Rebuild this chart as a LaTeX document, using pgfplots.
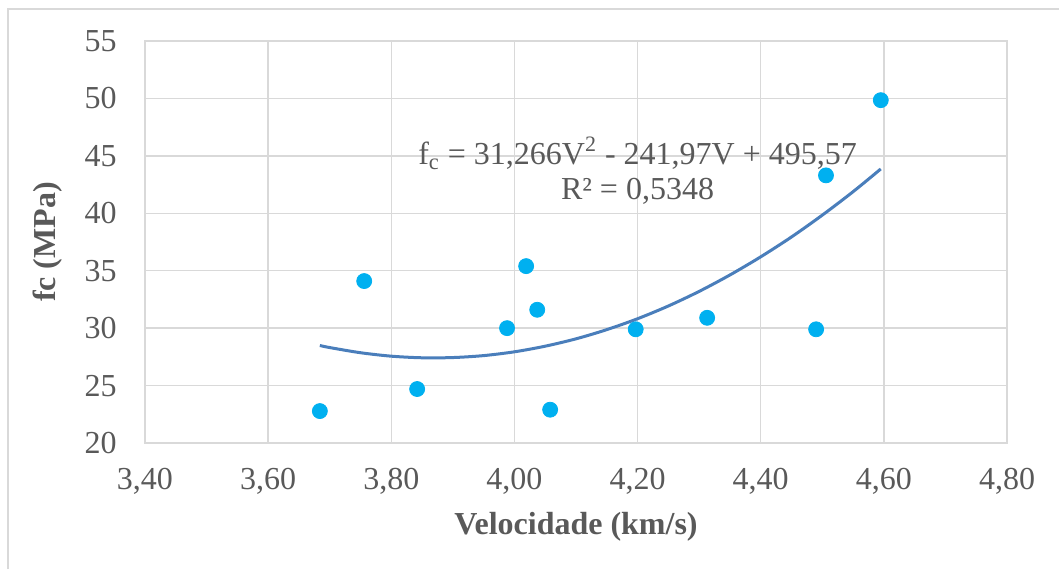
\documentclass[border=0pt]{standalone}
\usepackage{fontspec}
\setmainfont{Liberation Serif}
\usepackage{pgfplots}
\pgfplotsset{compat=1.18}
\definecolor{txtgray}{HTML}{595959}
\definecolor{gridgray}{HTML}{D9D9D9}
\definecolor{dotblue}{HTML}{00B0F0}
\definecolor{trendblue}{RGB}{74,126,187}
\begin{document}
\begin{tikzpicture}
\useasboundingbox (0,0) rectangle (529.5pt,284.5pt);
\draw[gridgray, line width=0.75pt] (4pt,0pt) -- (4pt,280pt) -- (529.5pt,280pt);
\begin{axis}[
  at={(72.5pt,63pt)}, anchor=south west,
  scale only axis, width=431pt, height=201pt,
  xmin=3.40, xmax=4.80, ymin=20, ymax=55,
  xtick={3.4,3.6,3.8,4.0,4.2,4.4,4.6,4.8},
  ytick={20,25,30,35,40,45,50,55},
  grid=major,
  major grid style={gridgray, line width=0.75pt},
  axis line style={gridgray, line width=0.75pt},
  major tick length=0pt,
  tick label style={font=\fontsize{16}{19}\selectfont, text=txtgray},
  /pgf/number format/assume math mode=true,
  xticklabel style={/pgf/number format/.cd, fixed, fixed zerofill, precision=2, use comma, /tikz/.cd, anchor=north, inner sep=0pt, yshift=-12.5pt},
  yticklabel style={anchor=east, inner sep=0pt, xshift=-14pt},
  xlabel={\textbf{Velocidade (km/s)}},
  ylabel={\textbf{fc (MPa)}},
  every axis x label/.style={at={(axis description cs:0.5,0)}, anchor=center, yshift=-42pt, font=\fontsize{16}{19}\selectfont, text=txtgray},
  every axis y label/.style={at={(axis description cs:0,0.5)}, xshift=-48.5pt, rotate=90, anchor=center, font=\fontsize{16}{19}\selectfont, text=txtgray},
  clip=false,
]
\addplot[trendblue, line width=1.5pt, smooth] coordinates {
(3.684,28.49) (3.70,28.31) (3.75,27.86) (3.80,27.56) (3.85,27.42) (3.90,27.44)
(3.95,27.61) (4.00,27.94) (4.05,28.43) (4.10,29.07) (4.15,29.87) (4.20,30.82)
(4.25,31.93) (4.30,33.20) (4.35,34.63) (4.40,36.21) (4.45,37.94) (4.50,39.84)
(4.55,41.88) (4.595,43.86)
};
\addplot[only marks, mark=*, mark size=3.75pt, mark options={fill=dotblue, draw=dotblue}] coordinates {
(3.684,22.78) (3.756,34.1) (3.842,24.7) (3.988,30.0) (4.019,35.4) (4.037,31.6)
(4.058,22.9) (4.197,29.9) (4.313,30.9) (4.490,29.9) (4.506,43.3) (4.595,49.85)
};
\node[align=center, text=txtgray, font=\fontsize{16}{17.5}\selectfont, inner sep=0pt] at (axis cs:4.20,43.7)
  {f\textsubscript{c} = 31,266V\textsuperscript{\fontsize{11}{11}\selectfont 2} - 241,97V + 495,57\\R² = 0,5348};
\end{axis}
\end{tikzpicture}
\end{document}
